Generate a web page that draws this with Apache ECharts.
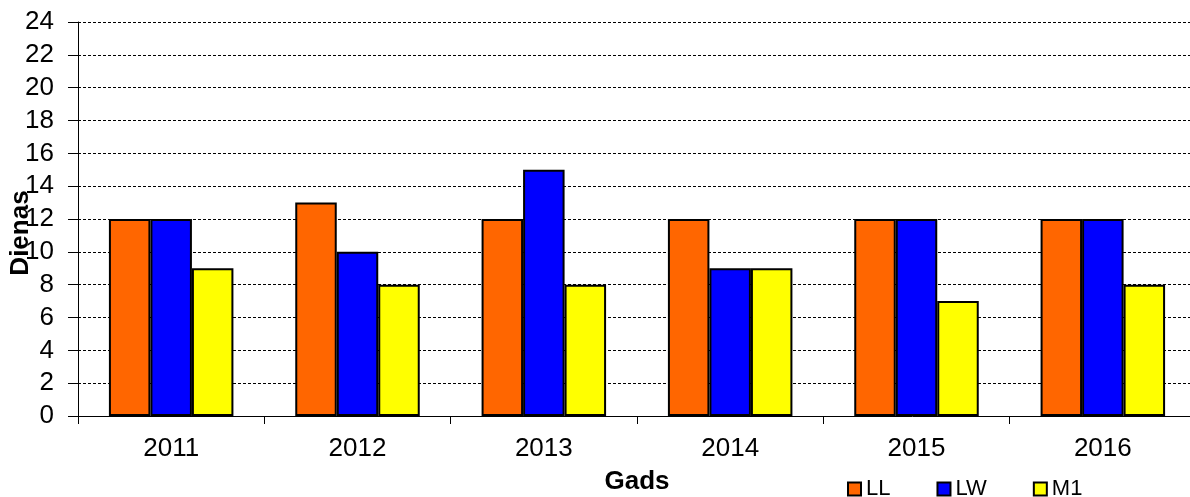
<!DOCTYPE html>
<html>
<head>
<meta charset="utf-8">
<script src="https://cdn.jsdelivr.net/npm/echarts@6/dist/echarts.min.js"></script>
<style>
  html, body { margin: 0; padding: 0; background: #fff; }
  #main { width: 1190px; height: 497px; }
</style>
</head>
<body>
<div id="main"></div>
<script>
// gadi un dienu skaits
const years = ['2011', '2012', '2013', '2014', '2015', '2016'];
const llData = [12, 13, 12, 12, 12, 12];
const lwData = [12, 10, 15, 9, 12, 12];
const m1Data = [9, 8, 8, 9, 7, 8];
const seriesNames = ['LL', 'LW', 'M1'];
const seriesColors = ['#ff6600', '#0000ff', '#ffff00'];

const font = 'Liberation Sans, Arial, sans-serif';

const myChart = echarts.init(document.getElementById('main'));

const mkBar = (name, data, color) => ({
  name: name,
  type: 'bar',
  data: data,
  barWidth: 41.5,
  barGap: '0%',
  itemStyle: { color: color, borderColor: '#000', borderWidth: 2 }
});

myChart.setOption({
  animation: false,
  backgroundColor: '#fff',
  grid: { left: 78, right: -6, top: 22, bottom: 81, containLabel: false, outerBoundsMode: 'none' },
  legend: {
    data: seriesNames,
    left: 847, top: 478, padding: 0,
    itemWidth: 13, itemHeight: 13, itemGap: 46,
    icon: 'rect',
    textStyle: { fontFamily: font, fontSize: 22, color: '#000' }
  },
  // y ass nosaukums (nedaudz zem centra, kā oriģinālā)
  graphic: [{
    type: 'text',
    x: 21, y: 233,
    rotation: Math.PI / 2,
    style: {
      text: 'Dienas',
      font: 'bold 26px Liberation Sans, Arial, sans-serif',
      fill: '#000',
      align: 'center',
      verticalAlign: 'middle'
    }
  }],
  xAxis: {
    type: 'category',
    data: years,
    name: 'Gads',
    nameLocation: 'middle',
    nameGap: 53,
    nameTextStyle: { fontFamily: font, fontSize: 26, fontWeight: 'bold', color: '#000' },
    axisLine: { lineStyle: { color: '#000', width: 1 } },
    axisTick: { show: true, length: 8, lineStyle: { color: '#000' } },
    axisLabel: { fontFamily: font, fontSize: 26, color: '#000', margin: 20 }
  },
  yAxis: {
    type: 'value',
    min: 0, max: 24, interval: 2,
    axisLine: { show: true, lineStyle: { color: '#000', width: 1 } },
    axisTick: { show: true, inside: false, length: 10, lineStyle: { color: '#000' } },
    axisLabel: { fontFamily: font, fontSize: 26, color: '#000', margin: 24 },
    splitLine: { lineStyle: { color: '#000', width: 1, type: [3, 2] } }
  },
  series: [
    mkBar(seriesNames[0], llData, seriesColors[0]),
    mkBar(seriesNames[1], lwData, seriesColors[1]),
    mkBar(seriesNames[2], m1Data, seriesColors[2])
  ]
});
</script>
</body>
</html>
